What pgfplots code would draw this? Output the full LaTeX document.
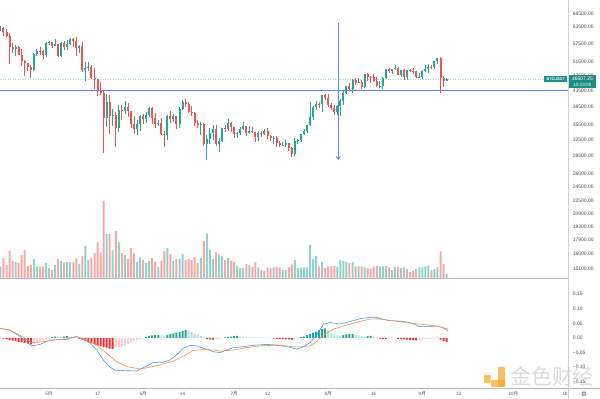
\documentclass[border=0pt]{standalone}
\usepackage{pgfplots}
\usepackage{pgfplotstable}
\pgfplotsset{compat=1.18}
\usepackage{fontspec}
\setmainfont{Liberation Sans}
\newfontfamily\cjk{Noto Sans CJK SC}
\newfontfamily\dejavu{DejaVu Sans}
\usetikzlibrary{arrows.meta}
\definecolor{upc}{HTML}{26A69A}
\definecolor{dnc}{HTML}{EF5350}
\definecolor{volup}{HTML}{92D2CC}
\definecolor{voldn}{HTML}{F7A9A7}
\definecolor{macdc}{HTML}{3FA1EF}
\definecolor{sigc}{HTML}{FF8F45}
\definecolor{hA}{HTML}{26A69A}
\definecolor{hB}{HTML}{B2DFDB}
\definecolor{hC}{HTML}{E83232}
\definecolor{hD}{HTML}{FFCDD2}
\definecolor{tickc}{HTML}{4D4D4D}
\definecolor{linec}{HTML}{BDBDBD}
\definecolor{drawc}{HTML}{5C84F0}
\definecolor{dotc}{HTML}{9ED8D2}
\definecolor{wmc}{HTML}{CDCDCD}
\definecolor{wmy}{HTML}{F5A623}

\pgfplotstableread{
d o h l c v
-16 62959 63800 62020 63159 35
-11 55633 57076 53329 56425 50
-5 49004 54356 48817 54021 58
-4 54021 55460 53222 55033 36
-1 53555 57963 53013 57750 46
0 57750 58458 57052 57828 30
2 56610 58981 56478 57213 40
4 53241 57939 52900 57473 53
6 56428 58650 55241 57380 50
7 57380 59500 56900 58928 48
10 55883 56900 54370 56751 44
12 49004 51367 46000 49687 97
13 49687 51560 48800 49885 56
19 36965 42536 35000 40596 133
21 37371 38850 35200 37480 84
23 34770 39920 34031 38705 108
25 38402 40841 37800 39294 70
29 34616 36400 33379 35678 50
30 35678 37499 34153 37332 63
32 36684 38225 35920 37575 46
33 37575 39476 37170 39208 53
36 35520 36481 35226 35796 35
39 33380 37534 32396 37389 91
41 36693 37681 35937 37313 53
43 35551 39380 34757 39020 58
44 39020 41064 38730 40516 73
50 35483 36137 33336 35600 61
52 31608 33298 28805 32509 135
53 32509 34881 31683 33678 85
54 33678 35298 32286 34663 58
56 31584 32730 30151 32283 72
57 32283 34749 32000 34700 66
59 34494 36600 34225 35911 61
62 33504 33977 32699 33801 38
63 33801 34950 33316 34668 31
64 34668 35967 34357 35287 31
66 33690 35118 33532 34220 40
69 32875 34100 32261 33815 33
71 33502 34666 33307 34259 23
74 32729 33114 31600 32820 33
77 31383 31936 31164 31520 26
78 31520 32435 31108 31778 26
81 29790 32858 29482 32144 56
82 32144 32591 31708 32287 31
83 32287 33650 31924 33634 33
84 33634 34500 33401 34258 33
85 34258 35398 33851 35425 33
86 35425 40550 35205 37208 101
87 37208 39542 36384 39456 58
88 39456 40900 38772 40019 67
90 40016 42316 38313 42206 50
95 38207 39969 37508 39723 35
96 39723 41350 37332 40862 56
97 40862 43392 39853 42836 53
98 42836 44700 42446 44614 50
100 43792 46454 42779 46285 50
102 45543 46743 45341 45595 36
104 44428 47886 44217 47793 33
109 44686 46000 44203 44741 36
110 44741 47033 43927 46763 36
111 46763 49382 46622 49339 38
113 48905 49500 48050 49321 25
114 49321 50500 49029 49546 35
116 47706 49226 47126 48960 31
118 46942 49150 46363 49058 28
122 46970 48246 46700 47100 33
123 47100 49156 46513 48810 33
124 48810 50450 48584 49246 36
125 49246 51000 48316 49999 39
127 49915 51900 49450 51756 28
128 51756 52780 50969 52663 34
131 46048 46700 45940 46507 13
}\upT

\pgfplotstableread{
d o h l c v
-15 63159 63520 60000 61334 61
-14 61334 62506 59580 60006 40
-13 60006 61288 50931 56150 83
-12 56150 57526 54221 55633 53
-10 56425 56757 53695 53787 46
-9 53787 55469 50400 51690 70
-8 51690 52130 47500 51125 85
-7 51125 51167 48753 50047 38
-6 50047 50500 46930 49004 40
-3 55033 56428 53813 54824 36
-2 54824 55195 52330 53555 36
1 57828 57911 56035 56610 25
3 57213 57213 53000 53241 58
5 57473 58360 55200 56428 48
8 58928 59300 56235 58280 48
9 58280 59592 53400 55883 61
11 56751 58000 48600 49004 67
14 49885 50700 46650 46700 61
15 46700 49800 43825 46450 76
16 46450 46643 42001 43537 110
17 43537 45799 42250 42910 78
18 42910 43547 30000 36965 233
20 40596 42200 33488 37371 133
22 37480 38270 31111 34770 143
24 38705 39791 36419 38402 76
26 39294 40411 37134 38436 58
27 38436 38437 34684 35697 91
28 35697 37339 33632 34616 75
31 37332 37894 35666 36684 56
34 39208 39289 35567 36894 61
35 36894 37925 34800 35520 50
37 35796 36900 33300 33552 53
38 33552 34068 31000 33380 82
40 37389 38399 35782 36693 73
42 37313 37438 34600 35551 58
45 40516 41330 39506 40144 55
46 40144 40528 38116 38349 58
47 38349 39560 37365 38092 55
48 38092 38202 35129 35819 63
49 35819 36457 34803 35483 46
51 35600 35750 31251 31608 112
55 34663 35500 31275 31584 78
58 34700 35297 33862 34494 56
60 35911 36100 34017 35045 53
61 35045 35057 32711 33504 50
65 35287 35293 33125 33690 43
67 34220 35059 33777 33862 35
68 33862 33900 32077 32875 48
70 33815 34262 33005 33502 26
72 34259 34679 32658 33086 33
73 33086 33340 32202 32729 30
75 32820 33185 31133 31880 35
76 31880 32249 31020 31383 33
79 31778 31899 30408 30839 33
80 30839 31063 29278 29790 42
89 40019 40640 39200 39990 36
91 42206 42448 41000 41461 31
92 41461 42599 39422 39845 36
93 39845 40445 38690 39147 36
94 39147 39780 37642 38207 38
99 44614 45310 43261 43792 46
101 46285 46700 44800 45543 36
103 45595 46218 43770 44428 36
105 47793 48144 45971 47096 31
106 47096 47372 45500 47019 29
107 47019 48053 45660 45936 36
108 45936 47160 44376 44686 38
112 49339 49757 48273 48905 33
115 49546 49870 47600 47706 35
117 48960 49368 46315 46942 33
119 49058 49309 48370 48903 20
120 48903 49644 47800 48767 23
121 48767 48888 46853 46970 28
126 49999 50558 49400 49915 25
129 52663 52920 42843 46863 81
130 46863 47340 44412 46048 43
}\dnT

\pgfplotstableread{
d m
-16.15 0.033
-12.85 0.027
-9.56 0.005
-5.71 -0.027
-2.96 -0.022
0.33 -0.007
5.82 -0.005
9.11 0.005
11.31 -0.005
13.51 -0.018
15.71 -0.041
17.90 -0.075
20.10 -0.100
21.75 -0.110
25.59 -0.112
28.89 -0.113
29.98 -0.107
32.18 -0.096
34.38 -0.083
37.67 -0.083
39.87 -0.075
42.07 -0.058
44.26 -0.035
46.46 -0.025
48.66 -0.027
50.86 -0.035
54.15 -0.047
56.35 -0.050
58.54 -0.041
60.74 -0.033
64.04 -0.030
67.33 -0.025
71.73 -0.022
75.02 -0.024
78.32 -0.030
80.51 -0.035
81.6 -0.038
83.8 -0.030
86.0 -0.016
88.2 0.010
90.4 0.047
92.6 0.053
95.9 0.048
99.2 0.056
102.5 0.066
105.8 0.071
107.9 0.071
110.1 0.064
112.3 0.059
115.6 0.058
118.9 0.053
122.2 0.039
125.5 0.039
127.7 0.041
129.9 0.035
131.5 0.024
}\macdT

\pgfplotstableread{
d s
-16.15 0.033
-12.85 0.027
-9.56 0.010
-5.71 -0.016
-1.87 -0.013
1.43 -0.007
5.82 -0.003
9.11 0.005
12.41 -0.007
15.71 -0.024
19.0 -0.053
22.30 -0.081
25.59 -0.098
29.98 -0.106
33.28 -0.100
36.57 -0.092
40.97 -0.079
44.26 -0.062
47.56 -0.043
50.86 -0.039
54.15 -0.041
56.35 -0.045
60.74 -0.041
65.13 -0.033
69.53 -0.027
73.92 -0.025
78.32 -0.027
80.5 -0.030
82.7 -0.031
86.0 -0.027
88.2 -0.012
90.4 0.010
93.7 0.030
97.0 0.041
101.4 0.054
105.8 0.065
107.9 0.066
111.2 0.062
115.6 0.056
120.0 0.050
124.4 0.045
127.7 0.041
131.5 0.031
}\sigT

\pgfplotstableread{
d h k
-16 0.004 2
-15 -0.002 3
-14 -0.005 3
-13 -0.007 3
-12 -0.009 3
-11 -0.011 3
-10 -0.013 3
-9 -0.015 3
-8 -0.017 3
-7 -0.019 3
-6 -0.022 3
-5 -0.020 4
-4 -0.016 4
-3 -0.012 4
-2 -0.008 4
-1 -0.005 4
0 -0.002 4
1 0.003 1
2 0.005 1
3 0.004 2
4 0.003 2
5 0.005 1
6 0.006 1
7 0.004 2
8 0.002 2
9 0.001 2
10 -0.002 3
11 -0.006 3
12 -0.010 3
13 -0.014 3
14 -0.018 3
15 -0.022 3
16 -0.026 3
17 -0.028 3
18 -0.031 3
19 -0.033 3
20 -0.036 3
21 -0.037 3
22 -0.034 4
23 -0.032 4
24 -0.028 4
25 -0.025 4
26 -0.020 4
27 -0.016 4
28 -0.011 4
29 -0.008 4
30 -0.005 4
31 -0.002 4
32 0.004 1
33 0.007 1
34 0.009 1
35 0.010 1
36 0.011 1
37 0.009 2
38 0.008 2
39 0.011 1
40 0.013 1
41 0.016 1
42 0.018 1
43 0.020 1
44 0.024 1
45 0.028 1
46 0.025 2
47 0.020 2
48 0.016 2
49 0.011 2
50 0.006 2
51 0.002 2
52 -0.004 3
53 -0.005 3
54 -0.006 3
55 -0.004 4
56 -0.003 4
57 -0.001 4
58 0.002 1
59 0.004 1
60 0.005 1
61 0.006 1
62 0.007 1
63 0.005 2
64 0.004 2
65 0.004 2
66 0.003 2
67 0.003 2
68 0.002 2
69 0.002 2
70 0.002 2
71 0.001 2
72 0.001 2
73 0.001 2
74 -0.002 3
75 -0.003 3
76 -0.004 3
77 -0.004 3
78 -0.005 3
79 -0.005 3
80 -0.006 3
81 -0.004 4
82 -0.002 4
83 0.003 1
84 0.005 1
85 0.010 1
86 0.013 1
87 0.018 1
88 0.022 1
89 0.027 1
90 0.031 1
91 0.033 1
92 0.027 2
93 0.018 2
94 0.014 2
95 0.010 2
96 0.007 2
97 0.010 1
98 0.012 1
99 0.013 1
100 0.013 1
101 0.010 2
102 0.008 2
103 0.006 2
104 0.005 2
105 0.006 1
106 0.007 1
107 0.004 2
108 0.001 2
109 -0.002 3
110 -0.003 3
111 -0.003 3
112 -0.002 4
113 -0.001 4
114 -0.001 4
115 -0.003 3
116 -0.004 3
117 -0.005 3
118 -0.006 3
119 -0.007 3
120 -0.007 3
121 -0.008 3
122 -0.007 4
123 -0.006 4
124 -0.005 4
125 -0.004 4
126 -0.003 4
127 -0.002 4
128 0.001 1
129 -0.006 3
130 -0.010 3
131 -0.014 3
}\histT

\pgfplotsset{
  base/.style={scale only axis, width=568.5bp, xmin=-16.145, xmax=171.17,
    axis line style={draw=none}, major tick length=0pt, anchor=south west,
    tick label style={font=\fontsize{5}{6}\selectfont, text=tickc},
    yticklabel pos=right, ytick pos=right,
    yticklabel style={anchor=west, inner sep=0pt, xshift=4.2bp}},
  wick/.style={draw=none, mark=none, forget plot, error bars/.cd, y dir=minus, y explicit, error mark=none,
    error bar style={draw=#1, line width=0.75bp}},
  body/.style={draw=none, mark=none, forget plot, error bars/.cd, y dir=minus, y explicit, error mark=none,
    error bar style={draw=#1, line width=2bp}},
  hbar/.style={ybar, bar width=2bp, bar shift=0pt, fill=#1, draw=none, forget plot}
}

\begin{document}
\begin{tikzpicture}
\path[use as bounding box] (0,0) rectangle (600bp,399bp);
\fill[white] (0,0) rectangle (600bp,399bp);

% volume
\begin{axis}[base, at={(0bp,120.5bp)}, height=278.5bp, ymin=0, ymax=835.5, xtick=\empty, ytick=\empty]
\addplot[hbar=volup] table[x=d,y=v]{\upT};
\addplot[hbar=voldn] table[x=d,y=v]{\dnT};
\end{axis}

% price
\begin{axis}[base, at={(0bp,120.5bp)}, height=278.5bp, ymode=log, ymin=14222, ymax=74420, xtick=\empty,
  ytick={68500,63500,57500,51500,47500,43500,39500,35500,32500,29500,26500,24500,22500,20900,19300,17900,16500,15100},
  yticklabels={68500.00,63500.00,57500.00,51500.00,47500.00,43500.00,39500.00,35500.00,32500.00,29500.00,26500.00,24500.00,22500.00,20900.00,19300.00,17900.00,16500.00,15100.00}]
\draw[dash pattern=on 1bp off 1.5bp, color=dotc, line width=0.5bp] (axis cs:-16.145,46507) -- (axis cs:163.1,46507);
\draw[color=drawc, line width=0.9bp] (axis cs:-16.145,43350) -- (axis cs:171.17,43350);
\draw[color=drawc, line width=0.9bp, -{Straight Barb[length=2.5bp,width=4bp]}] (axis cs:95.3,64800) -- (axis cs:95.3,28770);
\addplot[wick=upc] table[x=d, y=h, y error minus expr=\thisrow{h}-\thisrow{l}]{\upT};
\addplot[wick=dnc] table[x=d, y=h, y error minus expr=\thisrow{h}-\thisrow{l}]{\dnT};
\addplot[body=upc] table[x=d, y=c, y error minus expr=\thisrow{c}-\thisrow{o}]{\upT};
\addplot[body=dnc] table[x=d, y=o, y error minus expr=\thisrow{o}-\thisrow{c}]{\dnT};
\end{axis}

% MACD
\begin{axis}[base, at={(0bp,10.7bp)}, height=109.8bp, ymin=-0.1723, ymax=0.2038,
  ytick={-0.15,-0.1,-0.05,0,0.05,0.1,0.15},
  yticklabels={−0.15,−0.10,−0.05,0.00,0.05,0.10,0.15},
  xtick={0,16,31,44,61,72,92,107,123,135,153,170},
  xticklabels={5月,17,6月,14,7月,12,8月,16,9月,13,10月,18},
  xticklabel style={font=\fontsize{4.6}{5}\cjk, text=tickc, anchor=north, inner sep=0pt, yshift=-3.4bp}]
\addplot[hbar=hA, restrict expr to domain={\thisrow{k}}{1:1}] table[x=d,y=h]{\histT};
\addplot[hbar=hB, restrict expr to domain={\thisrow{k}}{2:2}] table[x=d,y=h]{\histT};
\addplot[hbar=hC, restrict expr to domain={\thisrow{k}}{3:3}] table[x=d,y=h]{\histT};
\addplot[hbar=hD, restrict expr to domain={\thisrow{k}}{4:4}] table[x=d,y=h]{\histT};
\addplot[color=macdc, line width=0.6bp, mark=none] table[x=d,y=m]{\macdT};
\addplot[color=sigc, line width=0.6bp, mark=none] table[x=d,y=s]{\sigT};
\end{axis}

% panel lines
\draw[linec, line width=0.8bp] (0,121bp) -- (568.5bp,121bp);
\draw[linec, line width=0.8bp] (0,10.7bp) -- (600bp,10.7bp);
\draw[color=black!18, line width=1.2bp] (568.5bp,0) -- (568.5bp,399bp);

% price tags
\fill[color=upc!85!black] (544bp,316.5bp) rectangle (567.3bp,323bp);
\node[text=white, font=\fontsize{3.8}{4}\selectfont\bfseries, inner sep=0pt] at (555.6bp,319.7bp) {BTCUSDT};
\fill[color=upc!85!black] (569.3bp,310.5bp) rectangle (595.5bp,323.5bp);
\node[text=white, font=\fontsize{5}{6}\selectfont, inner sep=0pt] at (582.4bp,320bp) {46507.25};
\node[text=white, font=\fontsize{4.6}{5}\selectfont, inner sep=0pt] at (582.4bp,314bp) {15:13:00};

% gear
\node[text=tickc, font=\fontsize{6.5}{7}\dejavu, inner sep=0pt] at (584bp,5bp) {⚙};

% watermark
\begin{scope}[opacity=0.7]
\fill[wmy, rounded corners=0.8bp] (484bp,16bp) rectangle (490.5bp,24bp);
\fill[wmy, rounded corners=0.8bp] (498bp,12bp) rectangle (505bp,32bp);
\fill[wmy, rounded corners=0.8bp] (491bp,12bp) rectangle (505bp,19bp);
\node[text=wmc, font=\fontsize{21}{22}\cjk, inner sep=0pt, anchor=west] at (510bp,23bp) {金色财经};
\end{scope}
\end{tikzpicture}
\end{document}
